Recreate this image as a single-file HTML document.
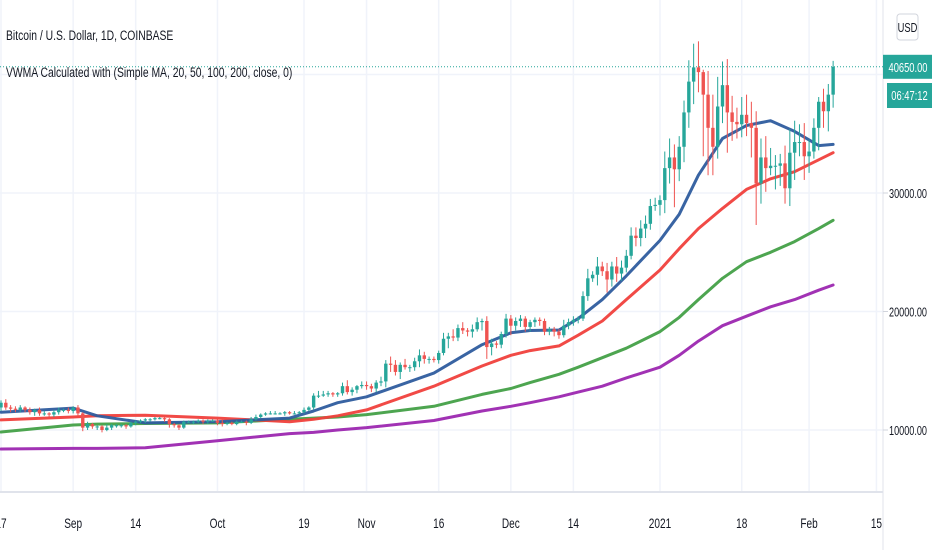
<!DOCTYPE html>
<html><head><meta charset="utf-8"><style>
html,body{margin:0;padding:0;background:#fff;}
svg{display:block;font-family:"Liberation Sans",sans-serif;}
</style></head><body>
<svg id="chart" width="932" height="550" viewBox="0 0 932 550" xmlns="http://www.w3.org/2000/svg">
<rect x="0" y="0" width="932" height="550" fill="#ffffff"/>
<g id="grid"></g>
<g id="mas"></g>
<g id="candles"></g>
<line x1="883" y1="0" x2="883" y2="550" stroke="#e0e3eb" stroke-width="1"/>
<line x1="0" y1="492" x2="883" y2="492" stroke="#e0e3eb" stroke-width="2"/>
<g id="yticks"></g>
<g id="xticks"></g>
<g transform="translate(6,40) scale(0.74,1)"><text x="0" y="0" font-size="14" fill="#131722">Bitcoin / U.S. Dollar, 1D, COINBASE</text></g>
<g transform="translate(6,77) scale(0.74,1)"><text x="0" y="0" font-size="14" fill="#131722">VWMA Calculated with (Simple MA, 20, 50, 100, 200, close, 0)</text></g>
<rect x="897" y="14" width="21" height="26" rx="3" fill="#fff" stroke="#d1d4dc"/>
<g transform="translate(907.5,32) scale(0.72,1)"><text x="0" y="0" font-size="13" fill="#131722" text-anchor="middle">USD</text></g>
<line id="lastline" x1="0" x2="883" stroke="#26a69a" stroke-width="1" stroke-dasharray="1,2"/>
<rect id="lastbox" x="883" width="49" height="24" fill="#26a69a"/>
<g id="lasttxt"><text x="0" y="0" font-size="13" fill="#fff" text-anchor="middle">40650.00</text></g>
<rect x="887" y="83" width="45" height="25" fill="#26a69a"/>
<g transform="translate(909.5,100) scale(0.72,1)"><text x="0" y="0" font-size="13" fill="#fff" text-anchor="middle">06:47:12</text></g>
</svg>
<script>
// ---- data (prices in USD; wicks in hundreds of USD) ----
const closes = [
12300,11900,11800,11700,11900,11700,11500,11700,11400,11400,11300,11500,11700,11700,11600,
11900,11400,10200,10500,10300,10300,10000,10200,10400,10400,10400,10300,10600,10700,10800,10900,10900,11000,11000,10900,10500,10400,10200,10700,10700,10700,10800,10700,10800,10800,
10600,10500,10600,10500,10700,10700,10600,10900,11100,11300,11400,11400,11400,11400,11500,11400,11400,11500,11700,11900,12900,12900,13000,13100,13000,13100,13700,13200,13400,13700,13800,
13700,13500,14000,14100,15600,15500,14900,15500,15300,15300,15800,16300,16000,16000,15900,16500,17700,17900,17800,18600,18400,18300,18500,19100,19200,17000,17300,17200,18100,19400,
18800,19200,19400,18700,19100,19300,19200,18300,18500,18300,18000,18800,19100,19300,19400,21300,22800,23100,23800,23400,22700,23800,23200,23700,24700,26400,26200,27000,27400,28900,29000,
29400,32100,33000,32000,33900,36800,39400,40600,40200,38300,35500,33900,37300,39100,36800,36000,35800,36600,35900,35500,30800,33000,32100,32300,32300,32500,30400,33400,34300,34300,33100,
33500,35500,37700,36900,38300,40650];
const firstOpen = 11900;
const wickUp = [
2,3,2,2,2,1,2,1,2,2,1,2,2,1,2,
1,2,1,2,1,1,1,3,1,1,1,1,1,1,1,1,1,1,1,1,1,1,1,1,1,1,1,1,1,1,
1,3,1,1,1,1,1,2,2,1,1,2,2,1,1,1,2,1,2,1,2,4,3,2,1,1,3,5,2,1,3,
3,2,2,4,3,6,4,2,5,2,3,5,3,2,2,2,5,3,6,3,5,2,4,4,2,4,4,2,2,4,
3,3,3,2,2,2,2,2,2,2,2,5,3,3,2,4,8,3,8,4,7,4,8,6,5,7,7,7,7,6,6,
4,14,16,11,9,10,18,20,22,2,20,28,25,20,22,14,12,15,17,18,14,16,18,15,9,8,15,20,18,15,16,
10,8,4,11,9,5];
const wickDn = [
3,2,3,2,2,2,2,3,2,2,2,2,2,2,2,
2,2,3,2,2,3,2,1,2,2,2,2,1,2,1,2,2,1,1,2,3,2,2,1,1,2,1,2,2,1,
2,2,1,1,1,1,2,1,1,1,1,1,1,1,2,1,1,1,1,1,2,2,1,2,2,2,2,2,3,3,2,
3,3,3,3,5,6,3,6,2,4,3,5,4,4,2,3,2,8,3,3,3,4,5,2,7,10,7,3,3,3,
8,4,5,4,4,4,4,3,3,4,3,2,3,3,3,2,4,3,9,4,11,6,7,6,4,3,7,7,8,5,4,
9,11,13,32,10,13,13,19,17,52,40,24,10,14,34,16,12,11,11,25,35,17,20,6,20,17,13,15,23,12,20,
14,6,19,14,17,11];
const maDays   = [0,15,20,30,45,60,65,70,76,90,100,106,110,116,120,125,130,137,141,145,150,155,160,165,170,173];
const ma20  = [11500,11850,11200,10600,10700,11000,11600,12300,12800,14800,17200,18200,18400,18440,19400,21000,23000,26000,28200,31500,34600,35700,36100,35200,34000,34100];
const ma50  = [10850,11100,11200,11250,11000,10700,10900,11200,11700,13700,15400,16300,16700,17100,18000,19200,21000,23500,25300,27000,28700,30300,31200,31800,32800,33400];
const ma100 = [9830,10420,10500,10550,10600,10900,11000,11100,11300,12000,13000,13500,14000,14700,15300,16100,16900,18300,19500,21000,22800,24200,25000,25900,27000,27700];
const ma200 = [8400,8450,8450,8500,9100,9700,9800,10000,10200,10800,11600,12000,12300,12800,13200,13700,14400,15300,16300,17500,18800,19600,20400,21000,21800,22240];
const priceTicks = [10000,20000,30000,40000];
const priceTickLabels = ["10000.00","20000.00","30000.00",""];
const timeTickDays = [0,15,28,45,63,76,91,106,119,137,154,168,182];
const timeTickLabels = ["17","Sep","14","Oct","19","Nov","16","Dec","14","2021","18","Feb","15"];
const lastPrice = 40650;

// ---- axes ----
const X0 = 1, DAYW = 4.81;
function xs(d){ return X0 + d*DAYW; }
function ys(v){ return 193 - (v-30000)*0.01185; }

const NS = "http://www.w3.org/2000/svg";
function mk(tag, attrs, parent){
  const e = document.createElementNS(NS, tag);
  for (const k in attrs) e.setAttribute(k, attrs[k]);
  parent.appendChild(e);
  return e;
}
const grid = document.getElementById('grid');
const yt = document.getElementById('yticks');
const xt = document.getElementById('xticks');
priceTicks.forEach((v,i)=>{
  const l = mk('line',{x1:0,x2:883,y1:ys(v),y2:ys(v),stroke:'#f0f3fa','stroke-width':1.5},grid);
  
  
  const tk = mk('line',{x1:883,x2:888,y1:ys(v),y2:ys(v),stroke:'#d1d4dc','stroke-width':1},yt);
  
  
  if (priceTickLabels[i]) {
    const g = mk('g',{transform:'translate(908,'+(ys(v)+5)+') scale(0.7,1)'},yt);
    
    
    const t = mk('text',{x:0,y:0,'font-size':13,fill:'#131722','text-anchor':'middle'},g);
    t.textContent = priceTickLabels[i];
  }
});
timeTickDays.forEach((d,i)=>{
  const x = xs(d);
  const l = mk('line',{x1:x,x2:x,y1:0,y2:492,stroke:'#f0f3fa','stroke-width':1.5},grid);
  
  
  const g = mk('g',{transform:'translate('+x+',528) scale(0.72,1)'},xt);
  
  
  const t = mk('text',{x:0,y:0,'font-size':14,fill:'#131722','text-anchor':'middle'},g);
  t.textContent = timeTickLabels[i];
});

// ---- moving averages ----
const mas = document.getElementById('mas');
[[ma200,'#9c27b0','ma-200-line'],[ma100,'#43a047','ma-100-line'],[ma50,'#f0403c','ma-50-line'],[ma20,'#2e5c9e','ma-20-line']].forEach(m=>{
  const pts = maDays.map((d,i)=>xs(d).toFixed(1)+','+ys(m[0][i]).toFixed(1)).join(' ');
  const p = mk('polyline',{points:pts,fill:'none',stroke:m[1],'stroke-width':3,'stroke-linejoin':'round','stroke-linecap':'round','stroke-opacity':0.95},mas);
  
  
});

// ---- candles ----
const cg = document.getElementById('candles');
closes.forEach((c,i)=>{
  const o = i===0 ? firstOpen : closes[i-1];
  const up = c >= o;
  const col = up ? '#26a69a' : '#ef5350';
  const hi = Math.max(o,c) + wickUp[i]*100;
  const lo = Math.min(o,c) - wickDn[i]*100;
  const x = xs(i);
  const g = mk('g',{},cg);
  
  
  mk('line',{x1:x,x2:x,y1:ys(hi),y2:ys(lo),stroke:col,'stroke-width':1},g);
  const top = ys(Math.max(o,c)), bot = ys(Math.min(o,c));
  mk('rect',{x:x-1.7,y:top,width:3.4,height:Math.max(1,bot-top),fill:col},g);
});

// ---- last price ----
const ly = ys(lastPrice);
const ll = document.getElementById('lastline');
ll.setAttribute('y1', ly); ll.setAttribute('y2', ly);
document.getElementById('lastbox').setAttribute('y', ly-12);
document.getElementById('lasttxt').setAttribute('transform','translate(908,'+(ly+5)+') scale(0.72,1)');
</script>
</body></html>
